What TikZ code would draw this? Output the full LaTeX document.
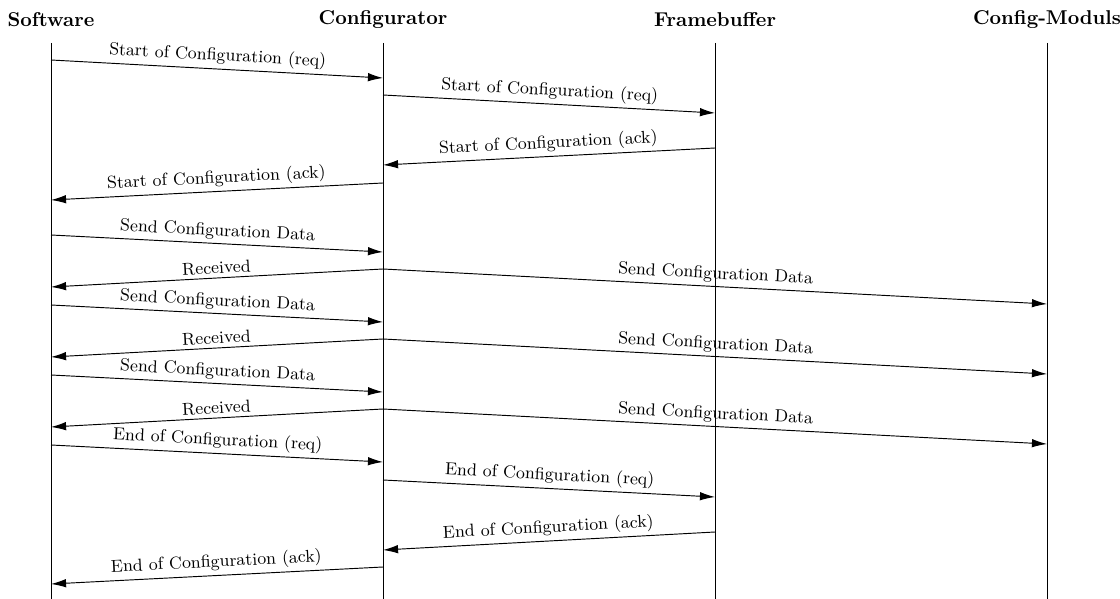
\documentclass[tikz,border=0pt]{standalone}
\usetikzlibrary{arrows.meta}
\begin{document}
\begin{tikzpicture}[x=0.53pt,y=-0.53pt,
  head/.style={font=\fontsize{10.6}{12}\selectfont\bfseries},
  life/.style={line width=0.5pt},
  msg/.style={line width=0.5pt,-{Latex[length=8pt,width=4.5pt]}},
  lbl/.style={midway,above,sloped,inner sep=2pt,font=\fontsize{9.2}{11}\selectfont}]
\useasboundingbox (0,0) rectangle (1120,599);
\node[head] (hs) at (51,20) {Software};
\node[head] (hc) at (383,20) {Configurator};
\node[head] (hf) at (715,20) {Framebuffer};
\node[head] (hm) at (1047,20) {Config-Moduls};
\foreach \n/\x in {s/51,c/383,f/715,m/1047}{
  \coordinate (\n top) at (\x,43);
  \coordinate (\n bot) at (\x,599);
  \draw[life] (\n top) -- (\n bot);
}
\foreach \n/\xa/\ya/\xb/\yb/\t in {
  1/51/60/383/78/{Start of Configuration (req)},
  2/383/95/715/113/{Start of Configuration (req)},
  3/715/148/383/165/{Start of Configuration (ack)},
  4/383/183/51/200/{Start of Configuration (ack)},
  5/51/235/383/252/{Send Configuration Data},
  6/383/269/51/287/{Received},
  7/383/269/1047/304/{Send Configuration Data},
  8/51/305/383/322/{Send Configuration Data},
  9/383/339/51/357/{Received},
  10/383/339/1047/374/{Send Configuration Data},
  11/51/375/383/392/{Send Configuration Data},
  12/383/409/51/427/{Received},
  13/383/409/1047/444/{Send Configuration Data},
  14/51/445/383/462/{End of Configuration (req)},
  15/383/480/715/497/{End of Configuration (req)},
  16/715/532/383/550/{End of Configuration (ack)},
  17/383/567/51/584/{End of Configuration (ack)}}{
  \coordinate (p\n) at (\xa,\ya);
  \coordinate (q\n) at (\xb,\yb);
  \draw[msg] (p\n) -- node[lbl]{\t} (q\n);
}
\end{tikzpicture}
\end{document}
